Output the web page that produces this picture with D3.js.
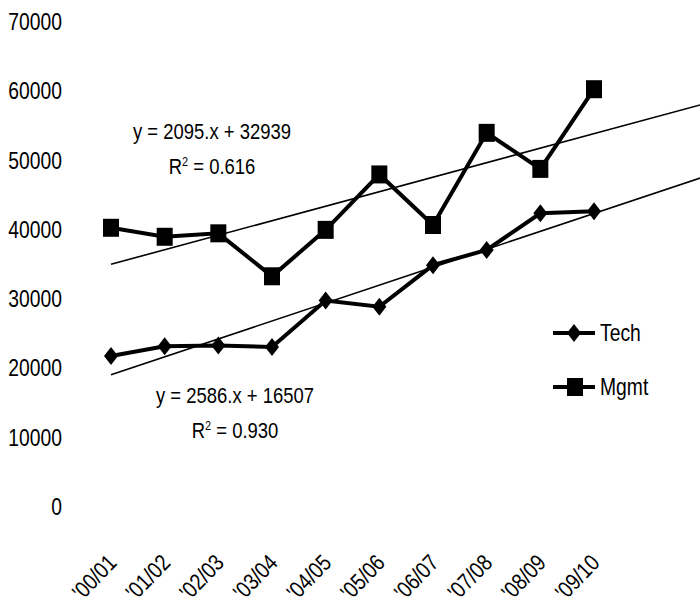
<!DOCTYPE html>
<html>
<head>
<meta charset="UTF-8">
<script src="https://d3js.org/d3.v7.min.js"></script>
<style>
  body { margin: 0; background: #fff; }
  svg text { font-family: "Liberation Sans", Arial, sans-serif; fill: #000; }
</style>
</head>
<body>
<svg width="700" height="609"></svg>
<script>
const years = ["'00/01", "'01/02", "'02/03", "'03/04", "'04/05", "'05/06", "'06/07", "'07/08", "'08/09", "'09/10"];
const tech = [21800, 23200, 23300, 23100, 29800, 28900, 34900, 37100, 42400, 42700];
const mgmt = [40300, 39000, 39500, 33300, 40000, 48000, 40700, 54000, 48800, 60300];
const yTicks = [0, 10000, 20000, 30000, 40000, 50000, 60000, 70000];
// trendline coefficients (slope, intercept) and R²
const techFit = [2586, 16507, "0.930"];
const mgmtFit = [2095, 32939, "0.616"];

const svg = d3.select("svg");
const x = d3.scaleLinear().domain([1, 10]).range([111, 594]);
const y = d3.scaleLinear().domain([0, 70000]).range([507, 22]);
const sx = 0.84; // narrow the font horizontally

// y labels
svg.append("g").selectAll("text").data(yTicks).join("text")
  .attr("transform", d => `translate(62,${y(d) + 8}) scale(${sx},1)`)
  .attr("text-anchor", "end").attr("font-size", 23)
  .text(d => d);

// x labels
svg.append("g").selectAll("text").data(years).join("text")
  .attr("transform", (d, i) => `translate(${x(i + 1) + 7},${564}) rotate(-46) scale(${sx},1)`)
  .attr("text-anchor", "end").attr("font-size", 23)
  .text(d => d);

// trendlines
const trend = d3.line().x(d => x(d[0])).y(d => y(d[1]));
[techFit, mgmtFit].forEach(f => {
  svg.append("path")
    .attr("d", trend([1, 12.5].map(t => [t, f[1] + f[0] * t])))
    .attr("fill", "none").attr("stroke", "#000").attr("stroke-width", 1.6);
});

// series
const line = d3.line().x((d, i) => x(i + 1)).y(d => y(d));
[tech, mgmt].forEach(s => {
  svg.append("path").attr("d", line(s))
    .attr("fill", "none").attr("stroke", "#000").attr("stroke-width", 4);
});

const diamond = "M0,-9L7,0L0,9L-7,0Z";
svg.append("g").selectAll("path").data(tech).join("path")
  .attr("transform", (d, i) => `translate(${x(i + 1)},${y(d)})`)
  .attr("d", diamond).attr("fill", "#000");
svg.append("g").selectAll("rect").data(mgmt).join("rect")
  .attr("x", (d, i) => x(i + 1) - 8).attr("y", d => y(d) - 9)
  .attr("width", 16).attr("height", 18).attr("fill", "#000");

// equations
function eq(cx, cy, f) {
  svg.append("text").attr("transform", `translate(${cx},${cy}) scale(${sx},1)`)
    .attr("text-anchor", "middle").attr("font-size", 22)
    .text(`y = ${f[0]}.x + ${f[1]}`);
  svg.append("text").attr("transform", `translate(${cx},${cy + 35}) scale(${sx},1)`)
    .attr("text-anchor", "middle").attr("font-size", 22)
    .html(`R<tspan dy="-8" font-size="13">2</tspan><tspan dy="8"> = ${f[2]}</tspan>`);
}
eq(212, 139, mgmtFit);
eq(235, 403, techFit);

// legend
const leg = svg.append("g");
leg.append("line").attr("x1", 553).attr("x2", 595).attr("y1", 333).attr("y2", 333)
  .attr("stroke", "#000").attr("stroke-width", 4);
leg.append("path").attr("transform", "translate(574,333)").attr("d", diamond).attr("fill", "#000");
leg.append("text").attr("transform", `translate(600,341) scale(${sx},1)`).attr("font-size", 23).text("Tech");
leg.append("line").attr("x1", 553).attr("x2", 595).attr("y1", 387).attr("y2", 387)
  .attr("stroke", "#000").attr("stroke-width", 4);
leg.append("rect").attr("x", 567).attr("y", 378).attr("width", 16).attr("height", 18).attr("fill", "#000");
leg.append("text").attr("transform", `translate(600,395) scale(${sx},1)`).attr("font-size", 23).text("Mgmt");
</script>
</body>
</html>
